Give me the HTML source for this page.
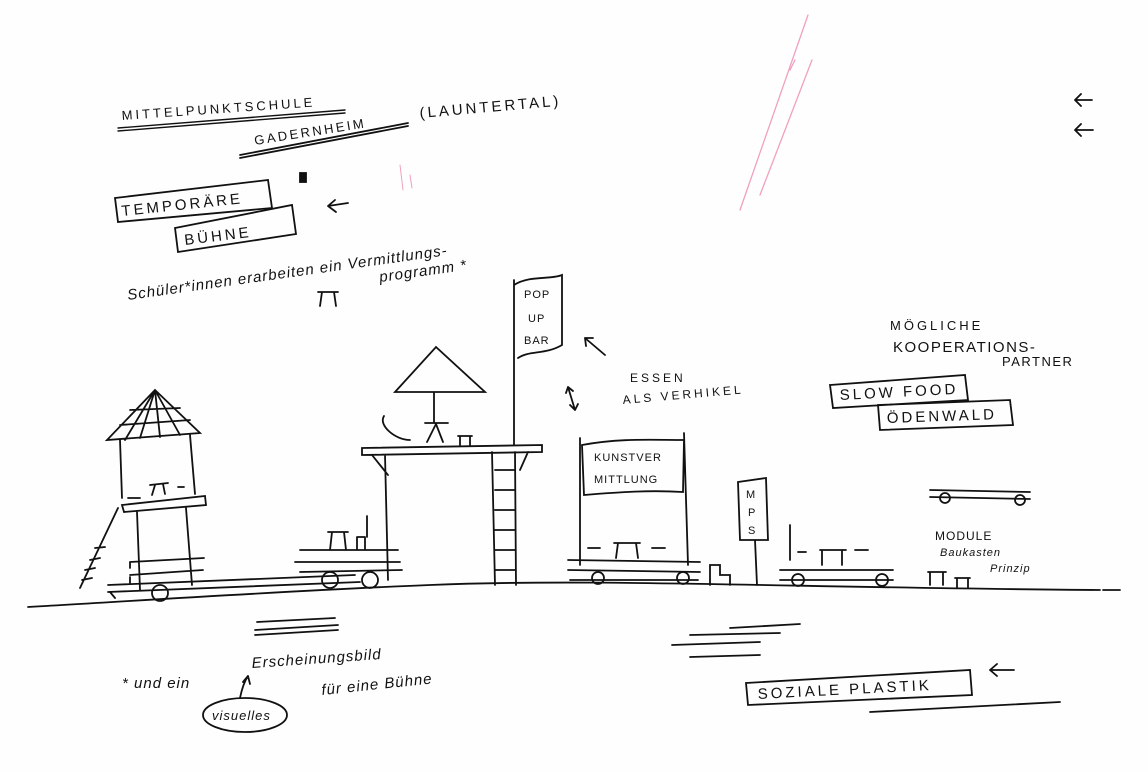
<!DOCTYPE html>
<html><head><meta charset="utf-8"><style>
html,body{margin:0;padding:0;background:#fefefe}
svg{display:block}
text{font-family:"Liberation Sans",sans-serif;fill:#111}
.h{font-size:15px;letter-spacing:3px}
.s{font-size:15px;letter-spacing:1px;font-style:italic}
</style></head><body>
<svg width="1148" height="774" viewBox="0 0 1148 774" xmlns="http://www.w3.org/2000/svg" fill="none" stroke="#111" stroke-width="1.8" stroke-linecap="round">
<rect x="0" y="0" width="1148" height="774" fill="#fefefe" stroke="none"/>
<!-- pink -->
<path d="M808 15 L740 210 M812 60 L760 195 M790 70 L795 60" stroke="#f0a0c0" stroke-width="1.3"/>
<path d="M400 165 L403 190 M410 175 L412 188" stroke="#f0a0c0" stroke-width="1"/>
<!-- header -->
<text class="h" x="122" y="120" transform="rotate(-4 122 120)" stroke="none" style="font-size:13px">MITTELPUNKTSCHULE</text>
<path d="M118 128 L345 110 M118 131 L345 113" stroke-width="1.4"/>
<text class="h" x="255" y="145" transform="rotate(-9 255 145)" stroke="none" style="font-size:13px;letter-spacing:2.5px">GADERNHEIM</text>
<path d="M240 158 L408 126 M240 155 L408 123"/>
<text class="h" x="420" y="118" transform="rotate(-5 420 118)" stroke="none">(LAUNTERTAL)</text>
<path d="M1075 100 L1092 100 M1075 100 L1081 94 M1075 100 L1081 106 M1075 130 L1093 130 M1075 130 L1081 124 M1075 130 L1081 136"/>
<rect x="300" y="173" width="6" height="9" fill="#111"/>
<!-- temporare -->
<path d="M115 198 L268 180 L272 208 L118 222 Z"/>
<text class="h" x="122" y="216" transform="rotate(-6 122 216)" stroke="none">TEMPORÄRE</text>
<path d="M175 228 L292 205 L296 234 L178 252 Z"/>
<text class="h" x="185" y="245" transform="rotate(-7 185 245)" stroke="none">BÜHNE</text>
<path d="M328 206 L348 203 M328 206 L335 200 M328 206 L336 212"/>
<text class="s" x="128" y="300" transform="rotate(-8 128 300)" stroke="none">Schüler*innen erarbeiten ein Vermittlungs-</text>
<text class="s" x="380" y="282" transform="rotate(-8 380 282)" stroke="none">programm *</text>
<path d="M318 292 L338 292 M322 292 L320 306 M334 292 L336 306"/>
<!-- ground -->
<path d="M28 607 C150 600 300 590 430 585 C600 578 800 588 1100 590" stroke-width="1.8"/>
<!-- hut -->
<path d="M155 390 L107 440 L200 433 Z M155 390 L125 440 M155 390 L140 438 M155 390 L160 437 M155 390 L180 435 M120 425 L190 420 M130 410 L180 408"/>
<path d="M120 440 L122 498 M190 435 L195 494 M122 505 L205 496 L206 505 L124 512 Z M137 512 L140 590 M186 508 L192 585 M130 562 L204 558 M130 575 L203 570 M130 562 L130 568 M130 577 L130 583"/>
<path d="M128 498 L140 498 M150 485 L168 483 M155 485 L152 495 M163 484 L165 494 M178 487 L184 487"/>
<path d="M118 508 L80 588 M82 580 L92 578 M85 570 L95 568 M90 560 L100 558 M95 548 L105 547"/>
<path d="M108 585 L355 575 M108 592 L360 582 M110 592 L115 598"/>
<circle cx="160" cy="593" r="8"/>
<!-- middle table platform -->
<path d="M300 550 L398 550 M295 562 L400 562 M300 572 L402 570 M328 532 L348 532 M332 532 L330 550 M344 532 L346 550 M357 537 L365 537 M357 537 L357 550 M365 537 L365 550 M367 516 L367 537"/>
<circle cx="330" cy="580" r="8"/><circle cx="370" cy="580" r="8"/>
<!-- umbrella platform -->
<path d="M395 392 L436 347 L485 392 Z M434 392 L434 423 M425 423 L448 423 M436 424 L427 442 M436 424 L443 442 M458 436 L472 436 M460 436 L460 445 M470 436 L470 445"/>
<path d="M384 416 C378 425 395 440 410 440" />
<path d="M362 448 L542 445 L542 452 L362 455 Z M385 455 L388 580 M372 455 L388 475 M528 452 L520 470"/>
<path d="M492 452 L495 585 M515 452 L516 585 M495 470 L515 470 M495 490 L515 490 M495 510 L515 510 M495 530 L515 530 M495 550 L515 550 M495 570 L515 570"/>
<!-- flag -->
<path d="M514 280 L514 445 M514 285 C530 275 550 280 562 275 L562 345 C545 355 530 350 518 358"/>
<text x="524" y="298" font-size="11" stroke="none" letter-spacing="1">POP</text>
<text x="528" y="322" font-size="11" stroke="none" letter-spacing="1">UP</text>
<text x="524" y="344" font-size="11" stroke="none" letter-spacing="1">BAR</text>
<path d="M585 338 L605 355 M585 338 L586 346 M585 338 L593 338 M568 387 L575 410 M568 387 L566 393 M568 387 L573 391 M575 410 L570 405 M575 410 L578 404"/>
<text class="h" x="630" y="382" stroke="none" style="font-size:12px">ESSEN</text>
<text class="h" x="623" y="404" transform="rotate(-5 623 404)" stroke="none" style="font-size:12px">ALS VERHIKEL</text>
<!-- kunst banner -->
<path d="M580 438 L580 565 M684 433 L688 565 M582 445 C620 438 650 440 684 440 L683 492 C650 490 620 492 584 495 Z"/>
<text x="594" y="461" font-size="11" stroke="none" letter-spacing="1">KUNSTVER</text>
<text x="594" y="483" font-size="11" stroke="none" letter-spacing="1">MITTLUNG</text>
<path d="M568 560 L700 562 M568 570 L700 572 M570 580 L698 580 M588 548 L600 548 M614 543 L640 543 M618 543 L616 558 M636 543 L638 558 M652 548 L665 548"/>
<circle cx="598" cy="578" r="6"/><circle cx="683" cy="578" r="6"/>
<path d="M710 585 L710 565 L720 565 L720 575 L730 575 L730 585"/>
<!-- MPS -->
<path d="M738 482 L766 478 L768 540 L740 540 Z M755 540 L757 585"/>
<text x="746" y="498" font-size="11" stroke="none">M</text>
<text x="748" y="516" font-size="11" stroke="none">P</text>
<text x="748" y="534" font-size="11" stroke="none">S</text>
<!-- right table -->
<path d="M780 570 L893 570 M780 580 L893 580 M790 525 L790 560 M820 550 L846 550 M822 550 L822 565 M842 550 L842 565 M798 552 L806 552 M855 550 L868 550"/>
<circle cx="798" cy="580" r="6"/><circle cx="882" cy="580" r="6"/>
<path d="M930 490 L1030 492 M930 497 L1030 499"/>
<circle cx="945" cy="498" r="5"/><circle cx="1020" cy="500" r="5"/>
<path d="M928 572 L946 572 M930 572 L930 585 M943 572 L943 585 M955 578 L970 578 M957 578 L957 588 M968 578 L968 588"/>
<text x="935" y="540" font-size="12" stroke="none" letter-spacing="1">MODULE</text>
<text x="940" y="556" stroke="none" class="s" style="font-size:11px">Baukasten</text>
<text x="990" y="572" stroke="none" class="s" style="font-size:11px">Prinzip</text>
<!-- koop -->
<text class="h" x="890" y="330" stroke="none" style="font-size:13px">MÖGLICHE</text>
<text class="h" x="893" y="352" stroke="none" style="letter-spacing:1.5px">KOOPERATIONS-</text>
<text class="h" x="1002" y="366" stroke="none" style="font-size:13px;letter-spacing:1.5px">PARTNER</text>
<path d="M830 385 L965 375 L968 400 L833 408 Z M878 405 L1010 400 L1013 425 L880 430 Z"/>
<text class="h" x="840" y="400" stroke="none" transform="rotate(-3 840 400)">SLOW FOOD</text>
<text class="h" x="887" y="423" stroke="none" transform="rotate(-2 887 423)">ÖDENWALD</text>
<path d="M1103 590 L1120 590"/>
<!-- bottom -->
<path d="M257 622 L335 618 M255 630 L338 625 M255 635 L338 630 M730 628 L800 624 M690 635 L780 633 M672 645 L760 642 M690 657 L760 655"/>
<text class="s" x="122" y="688" stroke="none">* und ein</text>
<text class="s" x="252" y="668" transform="rotate(-4 252 668)" stroke="none">Erscheinungsbild</text>
<text class="s" x="322" y="695" transform="rotate(-6 322 695)" stroke="none">für eine Bühne</text>
<path d="M240 698 C242 688 244 682 248 676 M248 676 L243 682 M248 676 L250 684"/>
<ellipse cx="245" cy="715" rx="42" ry="17"/>
<text class="s" x="212" y="720" stroke="none" style="font-size:13px">visuelles</text>
<path d="M746 683 L970 670 L972 695 L748 705 Z"/>
<text class="h" x="758" y="699" transform="rotate(-3 758 699)" stroke="none">SOZIALE PLASTIK</text>
<path d="M990 670 L1014 670 M990 670 L997 664 M990 670 L997 676 M870 712 L1060 702"/>
</svg>
</body></html>
